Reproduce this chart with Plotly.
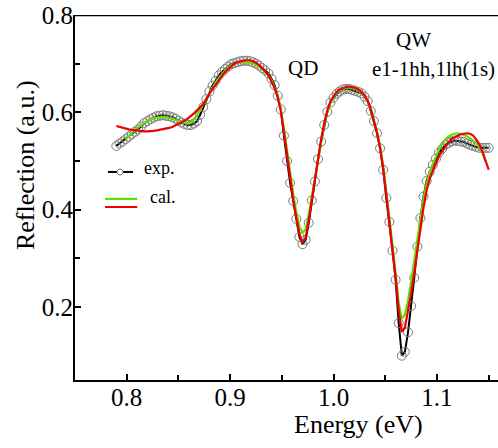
import plotly.graph_objects as go

energy = [0.790, 0.793, 0.796, 0.799, 0.802, 0.805, 0.808, 0.811, 0.814, 0.817,
          0.820, 0.823, 0.826, 0.829, 0.832, 0.835, 0.838, 0.841, 0.844, 0.847,
          0.850, 0.853, 0.856, 0.859, 0.862, 0.865, 0.868, 0.871, 0.874, 0.877,
          0.880, 0.883, 0.886, 0.889, 0.892, 0.895, 0.898, 0.901, 0.904, 0.907,
          0.910, 0.913, 0.916, 0.919, 0.922, 0.925, 0.928, 0.931, 0.934, 0.937,
          0.940, 0.943, 0.946, 0.949, 0.952, 0.955, 0.958, 0.961, 0.964, 0.967,
          0.970, 0.973, 0.976, 0.979, 0.982, 0.985, 0.988, 0.991, 0.994, 0.997,
          1.000, 1.003, 1.006, 1.009, 1.012, 1.015, 1.018, 1.021, 1.024, 1.027,
          1.030, 1.033, 1.036, 1.039, 1.042, 1.045, 1.048, 1.051, 1.054, 1.057,
          1.060, 1.063, 1.066, 1.069, 1.072, 1.075, 1.078, 1.081, 1.084, 1.087,
          1.090, 1.093, 1.096, 1.099, 1.102, 1.105, 1.108, 1.111, 1.114, 1.117,
          1.120, 1.123, 1.126, 1.129, 1.132, 1.135, 1.138, 1.141, 1.144, 1.147,
          1.150]

exp_vals = [0.531, 0.536, 0.540, 0.545, 0.550, 0.555, 0.560, 0.565, 0.571, 0.578,
            0.582, 0.586, 0.589, 0.592, 0.593, 0.594, 0.593, 0.592, 0.590, 0.587,
            0.583, 0.579, 0.576, 0.574, 0.574, 0.577, 0.582, 0.595, 0.611, 0.627,
            0.643, 0.655, 0.665, 0.676, 0.683, 0.689, 0.694, 0.699, 0.701, 0.703,
            0.705, 0.706, 0.706, 0.705, 0.703, 0.700, 0.696, 0.691, 0.686, 0.680,
            0.669, 0.656, 0.634, 0.606, 0.552, 0.500, 0.455, 0.418, 0.381, 0.344,
            0.329, 0.338, 0.373, 0.419, 0.458, 0.504, 0.540, 0.574, 0.601, 0.620,
            0.630, 0.638, 0.643, 0.647, 0.648, 0.648, 0.646, 0.644, 0.642, 0.639,
            0.632, 0.623, 0.603, 0.582, 0.557, 0.526, 0.482, 0.424, 0.375, 0.316,
            0.256, 0.167, 0.100, 0.108, 0.148, 0.202, 0.260, 0.324, 0.383, 0.427,
            0.459, 0.478, 0.492, 0.505, 0.517, 0.525, 0.533, 0.537, 0.540, 0.542,
            0.541, 0.540, 0.539, 0.536, 0.533, 0.531, 0.529, 0.527, 0.527, 0.527,
            0.527]

cal_red = [0.572, 0.570, 0.568, 0.566, 0.565, 0.564, 0.563, 0.562, 0.562, 0.561,
           0.561, 0.561, 0.562, 0.563, 0.564, 0.565, 0.566, 0.568, 0.570, 0.573,
           0.576, 0.579, 0.583, 0.587, 0.592, 0.598, 0.604, 0.610, 0.617, 0.628,
           0.639, 0.648, 0.656, 0.666, 0.675, 0.683, 0.689, 0.695, 0.700, 0.703,
           0.705, 0.706, 0.707, 0.707, 0.705, 0.702, 0.697, 0.691, 0.684, 0.676,
           0.664, 0.650, 0.630, 0.603, 0.560, 0.510, 0.461, 0.420, 0.383, 0.350,
           0.333, 0.342, 0.378, 0.421, 0.462, 0.505, 0.545, 0.578, 0.604, 0.623,
           0.634, 0.642, 0.647, 0.650, 0.652, 0.653, 0.652, 0.650, 0.647, 0.642,
           0.635, 0.624, 0.607, 0.585, 0.558, 0.527, 0.485, 0.430, 0.378, 0.320,
           0.262, 0.193, 0.149, 0.158, 0.190, 0.228, 0.270, 0.317, 0.364, 0.405,
           0.440, 0.464, 0.480, 0.496, 0.510, 0.520, 0.530, 0.538, 0.545, 0.549,
           0.552, 0.555, 0.556, 0.557, 0.556, 0.552, 0.544, 0.534, 0.519, 0.501,
           0.482]

cal_green = [None, None, None, 0.545, 0.552, 0.558, 0.564, 0.569, 0.574, 0.578,
             0.582, 0.585, 0.588, 0.589, 0.590, 0.590, 0.590, 0.589, 0.587, 0.585,
             0.582, 0.580, 0.578, 0.577, 0.579, 0.585, 0.594, 0.604, 0.616, 0.628,
             0.640, 0.651, 0.661, 0.670, 0.679, 0.686, 0.692, 0.697, 0.700, 0.702,
             0.704, 0.704, 0.704, 0.703, 0.701, 0.698, 0.694, 0.689, 0.683, 0.676,
             0.666, 0.652, 0.633, 0.606, 0.568, 0.522, 0.475, 0.432, 0.395, 0.365,
             0.353, 0.360, 0.390, 0.428, 0.468, 0.508, 0.545, 0.576, 0.601, 0.619,
             0.631, 0.640, 0.645, 0.648, 0.650, 0.651, 0.650, 0.648, 0.645, 0.640,
             0.633, 0.622, 0.606, 0.585, 0.560, 0.530, 0.490, 0.438, 0.385, 0.328,
             0.270, 0.208, 0.176, 0.184, 0.213, 0.253, 0.296, 0.342, 0.385, 0.423,
             0.454, 0.477, 0.494, 0.510, 0.524, 0.535, 0.544, 0.550, 0.554, 0.556,
             0.557, 0.556, 0.554, 0.551, 0.547, 0.542, 0.537, 0.528, 0.516, 0.498,
             None]

x_ticks = [0.8, 0.9, 1.0, 1.1]
y_ticks = [0.2, 0.4, 0.6, 0.8]
x_minor = [0.85, 0.95, 1.05, 1.15]
y_minor = [0.3, 0.5, 0.7]

FONT = "Liberation Serif, Times New Roman, serif"

fig = go.Figure()
fig.add_trace(go.Scatter(
    x=energy, y=exp_vals, mode="lines+markers", name="exp.",
    line=dict(color="black", width=2),
    marker=dict(symbol="circle-open", size=9, color="#7a7a7a", line=dict(width=1)),
    showlegend=False))
fig.add_trace(go.Scatter(
    x=energy, y=cal_green, mode="lines", name="cal.",
    line=dict(color="#66dd00", width=2.2), showlegend=False))
fig.add_trace(go.Scatter(
    x=energy, y=cal_red, mode="lines", name="cal.",
    line=dict(color="#ee0000", width=2.2), showlegend=False))

axis_common = dict(showgrid=False, zeroline=False, showline=True, linecolor="black",
                   linewidth=2, ticks="inside", ticklen=6, tickwidth=2, tickcolor="black",
                   tickfont=dict(family=FONT, size=25, color="black"))

fig.update_xaxes(range=[0.75, 1.159], tickvals=x_ticks, tickformat=".1f",
                 ticklabelstandoff=-6,
                 minor=dict(tickvals=x_minor, ticks="inside", ticklen=5, tickwidth=2,
                            tickcolor="black"),
                 **axis_common)
fig.update_yaxes(range=[0.05, 0.8], tickvals=y_ticks, tickformat=".1f",
                 ticklabelstandoff=-5,
                 minor=dict(tickvals=y_minor, ticks="inside", ticklen=5, tickwidth=2,
                            tickcolor="black"),
                 **axis_common)

ann_font = dict(family=FONT, size=21, color="black")
annotations = [
    dict(text="QD", x=0.9707, y=0.691, xref="x", yref="y", showarrow=False, font=ann_font,
         xanchor="center", yanchor="middle"),
    dict(text="QW", x=1.0771, y=0.749, xref="x", yref="y", showarrow=False, font=ann_font,
         xanchor="center", yanchor="middle"),
    dict(text="e1-1hh,1lh(1s)", x=1.0965, y=0.689, xref="x", yref="y", showarrow=False,
         font=ann_font, xanchor="center", yanchor="middle"),
    dict(text="Energy (eV)", x=0.671, y=-0.123, xref="paper", yref="paper", showarrow=False,
         xanchor="center", yanchor="middle",
         font=dict(family=FONT, size=26, color="black")),
    dict(text="Reflection (a.u.)", x=-0.118, y=0.589, xref="paper", yref="paper",
         xanchor="center", yanchor="middle",
         showarrow=False, textangle=-90, font=dict(family=FONT, size=26, color="black")),
    dict(text="exp.", x=0.158, y=0.581, xref="paper", yref="paper", xanchor="left",
         yanchor="middle", showarrow=False, font=dict(family=FONT, size=18, color="black")),
    dict(text="cal.", x=0.173, y=0.501, xref="paper", yref="paper", xanchor="left",
         yanchor="middle", showarrow=False, font=dict(family=FONT, size=18, color="black")),
]

shapes = [
    dict(type="line", xref="paper", yref="y", x0=0, x1=1.0, y0=0.8, y1=0.8,
         line=dict(color="black", width=2.5), layer="above"),
    dict(type="line", xref="paper", yref="paper", x0=0.078, x1=0.137, y0=0.570, y1=0.570,
         line=dict(color="black", width=2)),
    dict(type="circle", xref="paper", yref="paper", x0=0.0993, x1=0.1135, y0=0.5616, y1=0.578,
         line=dict(color="#7a7a7a", width=1), fillcolor="white"),
    dict(type="line", xref="paper", yref="paper", x0=0.071, x1=0.147, y0=0.496, y1=0.496,
         line=dict(color="#66dd00", width=2.2)),
    dict(type="line", xref="paper", yref="paper", x0=0.071, x1=0.147, y0=0.474, y1=0.474,
         line=dict(color="#ee0000", width=2.2)),
]

fig.update_layout(width=498, height=448, margin=dict(l=75, r=0, t=15, b=68),
                  paper_bgcolor="white", plot_bgcolor="white",
                  annotations=annotations, shapes=shapes, showlegend=False)

fig.write_html("out.html", config={"displayModeBar": False},
               post_script="document.body.style.margin='0';document.body.style.overflow='hidden';")
